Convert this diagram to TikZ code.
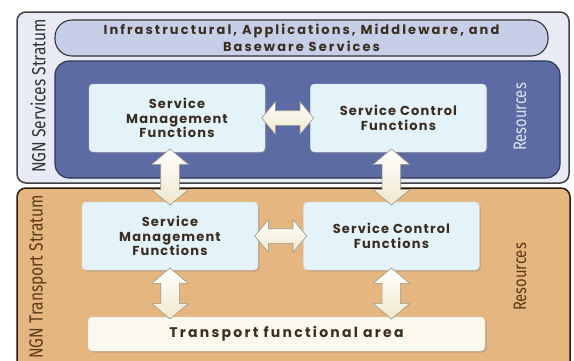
\documentclass[tikz,border=0pt]{standalone}
\usepackage{fontspec}
\setmainfont{Poppins}
\newfontfamily\boxfont[LetterSpace=9]{Poppins}
\newfontfamily\widefont[LetterSpace=16]{Poppins}
\newfontfamily\sidefont[FakeStretch=0.82]{Fira Sans}
\usetikzlibrary{calc, positioning, shapes.arrows, shadows}

\definecolor{svcback}{HTML}{E8EBF4}
\definecolor{trpback}{HTML}{E6B681}
\definecolor{pillfill}{HTML}{C6CEE8}
\definecolor{resblue}{HTML}{5C6BA4}
\definecolor{funcfill}{HTML}{E4F2FA}
\definecolor{areafill}{HTML}{FBF8EE}
\definecolor{arrowfill}{HTML}{EFE8CC}
\definecolor{arrowedge}{HTML}{9C9882}
\definecolor{inktext}{HTML}{3B2E20}
\definecolor{browntext}{HTML}{5C3B16}

\tikzset{
    stratumnode/.style = {draw, rectangle, rounded corners=9pt, line width=1.5pt, inner sep=0pt},
    panelnode/.style = {draw, rectangle, rounded corners=14pt, line width=1.1pt, inner sep=0pt},
    funcnode/.style = {draw=white!70!gray, fill=funcfill, rectangle, rounded corners=4pt, inner sep=0pt,
      minimum width=176pt, minimum height=68pt, align=center, text=inktext,
      font=\boxfont\fontsize{13}{14.5}\selectfont\bfseries,
      drop shadow={shadow xshift=1.5pt, shadow yshift=-1.5pt, opacity=0.35}},
    sidenode/.style = {rotate=90, inner sep=0pt, font=\sidefont\fontsize{19}{20}\selectfont},
    biarrow/.style = {double arrow, draw=arrowedge, line width=0.6pt, top color=white, bottom color=arrowfill,
      inner xsep=0pt, inner ysep=7pt, minimum width=32pt, double arrow head extend=9pt,
      double arrow tip angle=100, sloped},
    biarrowv/.style = {biarrow, inner ysep=9pt, minimum width=36pt}
}

\begin{document}
\begin{tikzpicture}[x=1pt, y=-1pt]
    \useasboundingbox (0,0) rectangle (574,360);

    % the two strata
    \node [name=svc, stratumnode, draw=black!75, fill=svcback, minimum width=552pt, minimum height=171pt]
        at (293,97.5) {};
    \node [name=trp, stratumnode, draw=black!80!brown, fill=trpback, minimum width=553pt, minimum height=184pt]
        at (293.5,280) {};

    \node [name=apps, panelnode, rounded corners=17pt, draw=black!80, fill=pillfill, minimum width=493pt,
        minimum height=36pt, align=center, text=inktext, font=\widefont\fontsize{13}{16.5}\selectfont\bfseries]
        at (301.5,38) {Infrastructural, Applications, Middleware, and\\Baseware Services};
    \node [name=res, panelnode, draw=resblue!50!black, fill=resblue, minimum width=505pt, minimum height=117pt]
        at (307.5,119.5) {};

    % function blocks
    \node [name=smfa, funcnode] at (177,118) {Service\\Management\\Functions};
    \node [name=scfa, funcnode, right=45pt of smfa] {Service Control\\Functions};
    \node [name=smfb, funcnode] at (170,236) {Service\\Management\\Functions};
    \node [name=scfb, funcnode, right=45pt of smfb] {Service Control\\Functions};

    \node [name=area, funcnode, fill=areafill, minimum width=397pt, minimum height=34pt,
        font=\widefont\fontsize{14}{16}\selectfont\bfseries] at (286.5,334) {Transport functional area};

    % side labels
    \node [name=svclabel, sidenode, text=black!80] at (38,96) {NGN Services Stratum};
    \node [name=trplabel, sidenode, text=browntext] at (38,277) {NGN Transport Stratum};
    \node [name=resa, sidenode, font=\sidefont\fontsize{18}{19}\selectfont, text=white!80!resblue]
        at (520,117) {Resources};
    \node [name=resb, sidenode, font=\sidefont\fontsize{18}{19}\selectfont, text=browntext]
        at (520,277) {Resources};

    % double arrows between blocks
    \path (smfa) -- node[biarrow, minimum height=52pt] (linka) {} (scfa);
    \path (smfb) -- node[biarrow, minimum height=52pt] (linkb) {} (scfb);
    \path (smfb.north |- smfa.south) -- node[biarrowv, minimum height=56pt] (linkc) {} (smfb.north);
    \path (scfb.north |- scfa.south) -- node[biarrowv, minimum height=56pt] (linkd) {} (scfb.north);
    \path (smfb.south) -- node[biarrowv, minimum height=51pt] (linke) {} (smfb.south |- area.north);
    \path (scfb.south) -- node[biarrowv, minimum height=51pt] (linkf) {} (scfb.south |- area.north);
\end{tikzpicture}
\end{document}
